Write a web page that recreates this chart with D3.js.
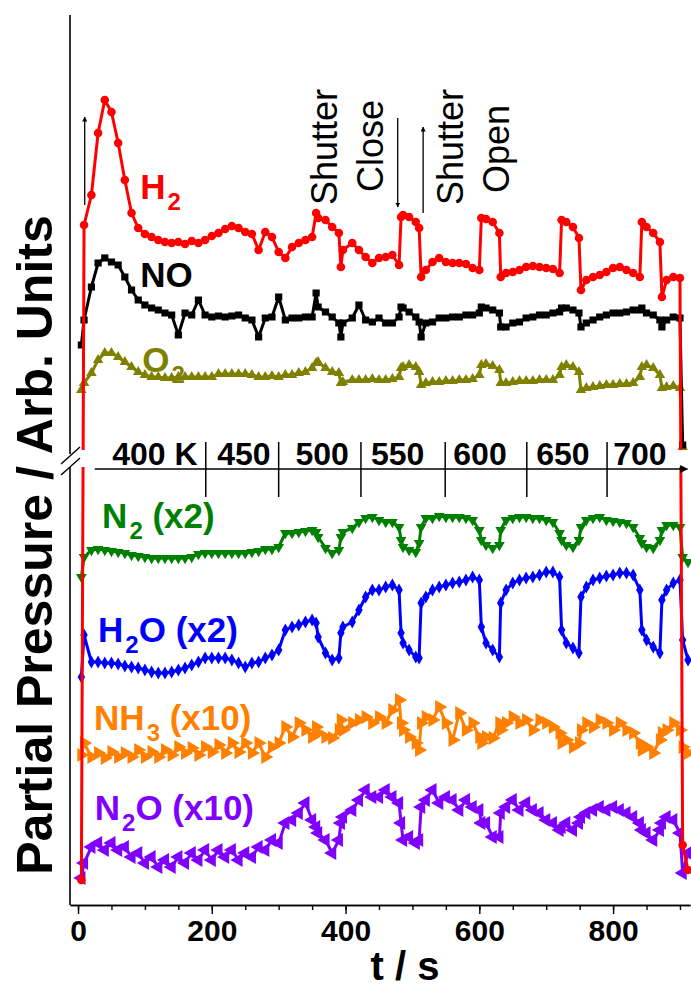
<!DOCTYPE html>
<html>
<head>
<meta charset="utf-8">
<script src="https://cdn.jsdelivr.net/npm/d3@7"></script>
<style>
  body { margin: 0; background: #fff; }
  svg { display: block; font-family: Arial, "Liberation Sans", sans-serif; }
</style>
</head>
<body>
<svg id="chart" width="691" height="992"></svg>
<script>
// time stamps (s), shared by every trace
var times = [5, 9, 20, 30, 40, 50, 60, 70, 80, 90,
  100, 110, 120, 130, 140, 150, 160, 170, 180, 190,
  200, 210, 220, 230, 240, 250, 260, 270, 280, 290,
  300, 310, 320, 330, 340, 350, 356, 359, 370, 380,
  390, 393, 396, 410, 420, 430, 440, 450, 460, 470,
  480, 483, 486, 495, 505, 510, 513, 520, 530, 540,
  550, 560, 570, 580, 590, 600, 603, 610, 620, 630,
  632, 640, 650, 660, 670, 680, 690, 700, 710, 720,
  723, 730, 740, 749, 752, 760, 770, 780, 790, 800,
  810, 820, 830, 840, 843, 850, 860, 870, 873, 880,
  890, 900, 904, 912];

// partial pressures, arb. units (traces offset as in the figure)
var h2 = [2.5, 68.0, 71.0, 77.2, 80.5, 79.3, 76.2, 72.5, 69.2, 67.7,
  67.1, 66.8, 66.5, 66.3, 66.2, 66.3, 66.1, 66.4, 66.2, 66.5,
  66.9, 67.2, 67.6, 67.9, 67.7, 67.3, 67.1, 65.5, 67.3, 66.8,
  65.3, 64.7, 65.8, 66.2, 66.5, 66.8, 69.2, 68.7, 68.5, 67.8,
  67.2, 63.8, 65.5, 66.2, 65.5, 64.8, 64.2, 64.7, 64.8, 65.0,
  64.0, 68.8, 69.0, 68.8, 68.3, 67.7, 62.8, 63.5, 64.3, 64.7,
  64.3, 64.2, 64.2, 64.1, 63.7, 63.5, 68.7, 68.6, 68.3, 67.2,
  62.8, 63.2, 63.3, 63.5, 63.8, 63.9, 63.8, 63.7, 63.6, 63.2,
  68.5, 68.3, 67.8, 66.7, 61.5, 62.5, 62.8, 63.0, 63.3, 63.7,
  63.8, 63.5, 63.2, 62.8, 68.3, 67.8, 67.2, 66.3, 60.8, 62.5,
  62.8, 62.7, 6.0, 3.5];
var no = [56.0, 58.5, 61.8, 64.2, 64.7, 64.3, 64.0, 62.8, 61.5, 60.5,
  60.0, 59.7, 59.5, 59.2, 59.0, 57.0, 59.2, 59.0, 60.5, 59.0,
  58.8, 58.9, 58.8, 58.9, 59.0, 58.7, 58.5, 56.8, 58.7, 58.8,
  60.8, 58.5, 58.7, 58.7, 58.8, 58.8, 61.2, 59.8, 59.3, 58.8,
  58.2, 56.8, 58.2, 58.7, 60.0, 58.5, 58.3, 58.7, 58.2, 58.2,
  58.8, 59.8, 59.7, 59.3, 58.8, 58.3, 56.8, 58.2, 58.3, 58.7,
  58.7, 58.8, 58.8, 59.0, 59.0, 59.2, 59.8, 59.7, 59.5, 59.2,
  57.8, 57.8, 58.2, 58.3, 58.7, 58.8, 59.0, 59.0, 59.2, 59.3,
  59.7, 59.7, 59.5, 59.2, 57.8, 58.2, 58.5, 58.8, 59.0, 59.2,
  59.2, 59.3, 59.5, 59.5, 59.7, 59.2, 59.0, 58.5, 57.8, 58.5,
  58.8, 58.7, 46.0, null];
var o2 = [51.5, 52.2, 53.2, 54.5, 55.2, 55.2, 54.8, 54.3, 53.8, 53.3,
  53.0, 52.8, 52.8, 52.7, 52.7, 52.8, 52.8, 52.8, 52.8, 52.8,
  52.8, 53.1, 53.1, 53.1, 53.1, 53.1, 53.0, 52.8, 52.8, 52.9,
  52.8, 53.0, 53.0, 53.2, 53.3, 53.7, 54.2, 54.3, 53.7, 53.3,
  53.2, 52.2, 52.3, 52.5, 52.5, 52.5, 52.6, 52.5, 52.5, 52.6,
  52.8, 53.7, 53.8, 54.0, 53.8, 53.3, 52.0, 52.2, 52.3, 52.3,
  52.4, 52.4, 52.5, 52.5, 52.6, 53.0, 54.0, 54.1, 53.9, 53.5,
  52.2, 52.2, 52.3, 52.4, 52.4, 52.4, 52.5, 52.5, 52.5, 53.0,
  53.8, 54.0, 53.8, 53.3, 51.5, 51.7, 51.8, 51.9, 52.0, 52.0,
  52.1, 52.1, 52.2, 52.8, 53.8, 54.0, 53.7, 53.0, 51.7, 51.8,
  51.9, 51.7, 45.8, null];
var n2 = [32.8, 34.8, 35.5, 35.6, 35.5, 35.4, 35.3, 35.2, 35.0, 34.9,
  34.8, 34.7, 34.7, 34.7, 34.7, 34.7, 34.7, 34.8, 35.1, 35.2,
  35.2, 35.2, 35.2, 35.2, 35.2, 35.2, 35.3, 35.4, 35.6, 35.6,
  35.8, 37.2, 37.2, 37.3, 37.4, 37.5, 37.3, 36.8, 35.7, 35.2,
  35.5, 36.8, 37.3, 37.7, 38.3, 38.7, 38.8, 38.5, 38.3, 38.3,
  37.8, 36.5, 35.8, 35.5, 35.3, 36.2, 37.8, 38.7, 38.7, 38.9,
  38.8, 38.8, 38.8, 38.7, 38.5, 37.5, 36.5, 36.0, 35.7, 36.0,
  37.5, 38.5, 38.7, 38.8, 38.8, 38.7, 38.7, 38.5, 38.3, 37.2,
  36.5, 36.0, 35.8, 36.5, 37.8, 38.5, 38.7, 38.8, 38.5, 38.4,
  38.3, 38.2, 37.8, 36.7, 36.2, 35.8, 35.7, 36.5, 37.5, 38.0,
  38.0, 37.8, 34.8, 34.3];
var h2o = [22.8, 27.0, 24.3, 24.3, 24.2, 24.2, 24.1, 23.9, 23.8, 23.7,
  23.5, 23.3, 23.2, 23.2, 23.3, 23.5, 23.7, 24.0, 24.3, 24.7,
  24.7, 24.7, 24.7, 24.5, 24.2, 23.8, 24.2, 24.3, 24.7, 25.0,
  25.5, 27.5, 27.8, 28.0, 28.3, 28.5, 28.2, 26.8, 25.2, 24.5,
  24.7, 27.2, 27.8, 28.3, 29.5, 30.8, 31.5, 31.5, 31.8, 32.0,
  31.5, 27.2, 26.2, 25.5, 24.8, 24.7, 30.2, 30.8, 31.5, 31.8,
  32.0, 32.2, 32.3, 32.5, 32.8, 32.5, 27.8, 26.2, 25.5, 24.8,
  30.2, 31.5, 32.2, 32.5, 32.7, 32.8, 33.0, 33.3, 33.3, 32.8,
  27.5, 26.2, 25.7, 25.2, 30.8, 31.8, 32.5, 32.7, 32.9, 33.0,
  33.2, 33.2, 33.0, 31.5, 27.5, 26.5, 25.8, 25.2, 30.5, 31.5,
  32.2, 32.5, 26.5, 24.5];
var nh3 = [15.0, 16.2, 14.8, 15.2, 14.7, 15.3, 14.8, 15.2, 14.8, 15.5,
  14.8, 15.3, 14.8, 15.5, 15.0, 15.8, 15.2, 15.7, 15.0, 15.8,
  15.3, 16.0, 15.2, 16.2, 15.3, 16.2, 15.2, 16.2, 14.8, 15.8,
  16.2, 17.8, 16.8, 18.2, 17.5, 16.8, 17.8, 17.2, 16.8, 16.7,
  17.5, 18.5, 17.5, 18.2, 18.5, 18.8, 18.2, 18.8, 18.2, 19.5,
  20.5, 18.2, 17.5, 16.8, 16.2, 15.5, 18.2, 18.8, 18.5, 19.8,
  18.2, 16.5, 19.2, 17.5, 18.2, 16.8, 16.2, 16.8, 16.7, 18.2,
  17.5, 18.2, 18.8, 18.2, 18.5, 17.5, 18.5, 18.2, 17.8, 17.2,
  16.2, 16.5, 15.8, 16.2, 17.5, 18.2, 17.8, 18.5, 18.2, 17.5,
  18.2, 17.5, 17.2, 16.2, 15.5, 15.8, 15.2, 16.5, 17.2, 17.5,
  18.2, 17.5, 15.8, 15.2];
var n2o = [2.7, 4.2, 5.8, 6.2, 5.5, 6.2, 5.5, 5.8, 4.8, 5.2,
  4.2, 4.8, 3.8, 4.5, 3.8, 4.8, 4.2, 5.2, 4.5, 5.5,
  4.5, 5.5, 4.8, 5.5, 4.5, 5.2, 4.8, 5.8, 5.5, 6.5,
  6.2, 8.2, 8.5, 9.2, 10.2, 8.5, 7.8, 7.2, 6.5, 5.2,
  6.5, 8.2, 8.8, 9.5, 10.5, 11.5, 10.8, 10.8, 11.5, 10.8,
  10.2, 8.2, 6.5, 6.8, 6.2, 6.5, 9.8, 10.5, 11.5, 10.2,
  10.8, 10.5, 9.5, 10.5, 9.8, 9.5, 8.2, 8.2, 6.8, 6.8,
  9.2, 9.8, 10.5, 9.5, 10.2, 9.5, 9.2, 8.5, 8.2, 7.5,
  7.8, 8.2, 7.5, 8.2, 8.8, 9.2, 9.5, 9.8, 9.5, 9.8,
  9.5, 9.2, 8.8, 8.2, 7.5, 7.2, 6.5, 7.5, 8.2, 8.8,
  8.5, 7.2, 3.2, 5.2];

// x axis ticks
var majorTicks = [0, 200, 400, 600, 800];
var minorTicks = [0, 50, 100, 150, 200, 250, 300, 350, 400, 450, 500, 550, 600, 650, 700, 750, 800, 850, 900];

// temperature scale drawn across the axis break
var tempLabels = ["400 K", "450", "500", "550", "600", "650", "700"];
var tempLabelTimes = [115, 248, 365, 478, 601, 725, 840];
var tempBounds = [191, 300, 423, 549, 671, 791];

var canvas_width = 691;
var canvas_height = 992;

var xScale = d3.scaleLinear().domain([-12, 915]).range([70, 690]);
var yScale = d3.scaleLinear().domain([0, 89]).range([905, 15]);
var breakTop = 450, breakBottom = 467; // pixel gap of the broken y axis

var svg = d3.select("#chart");

var defs = svg.append("defs");
var clip = defs.append("clipPath").attr("id", "breakclip");
clip.append("rect").attr("x", 70).attr("y", 0).attr("width", 621).attr("height", breakTop);
clip.append("rect").attr("x", 70).attr("y", breakBottom).attr("width", 621).attr("height", 905 - breakBottom);

defs.append("marker")
  .attr("id", "arrow")
  .attr("viewBox", "0 0 10 10")
  .attr("refX", 9).attr("refY", 5)
  .attr("markerWidth", 5).attr("markerHeight", 5)
  .attr("markerUnits", "userSpaceOnUse")
  .attr("orient", "auto")
  .append("path").attr("d", "M0,0 L10,5 L0,10 Z").attr("fill", "#000");
defs.append("marker")
  .attr("id", "bigarrow")
  .attr("viewBox", "0 0 10 10")
  .attr("refX", 9).attr("refY", 5)
  .attr("markerWidth", 10).attr("markerHeight", 8)
  .attr("markerUnits", "userSpaceOnUse")
  .attr("orient", "auto")
  .append("path").attr("d", "M0,0 L10,5 L0,10 Z").attr("fill", "#000");

var series = [
  { key: "N2O", values: n2o, color: "#8000ff", type: d3.symbolTriangle, rot: -90, size: 85 },
  { key: "NH3", values: nh3, color: "#ff8000", type: d3.symbolTriangle, rot: 90, size: 85 },
  { key: "H2O", values: h2o, color: "#0000ff", type: d3.symbolDiamond, rot: 0, size: 48 },
  { key: "N2", values: n2, color: "#008000", type: d3.symbolTriangle, rot: 180, size: 50 },
  { key: "O2", values: o2, color: "#808000", type: d3.symbolTriangle, rot: 0, size: 48 },
  { key: "NO", values: no, color: "#000000", type: d3.symbolSquare, rot: 0, size: 52 },
  { key: "H2", values: h2, color: "#ff0000", type: d3.symbolCircle, rot: 0, size: 58 }
];

var line = d3.line()
  .defined(function (d) { return d[1] !== null; })
  .x(function (d) { return xScale(d[0]); })
  .y(function (d) { return yScale(d[1]); });

var plot = svg.append("g").attr("clip-path", "url(#breakclip)");

series.forEach(function (s) {
  var pts = times.map(function (t, i) { return [t, s.values[i]]; });
  var g = plot.append("g").attr("class", "trace " + s.key);
  g.append("path")
    .datum(pts)
    .attr("fill", "none")
    .attr("stroke", s.color)
    .attr("stroke-width", 3)
    .attr("stroke-linejoin", "round")
    .attr("d", line);
  g.selectAll("path.dot")
    .data(pts.filter(function (d) { return d[1] !== null; }))
    .enter()
    .append("path")
    .attr("class", "dot")
    .attr("d", d3.symbol().type(s.type).size(s.size))
    .attr("fill", s.color)
    .attr("transform", function (d) {
      return "translate(" + xScale(d[0]) + "," + yScale(d[1]) + ") rotate(" + s.rot + ")";
    });
});

// left spine, broken
svg.append("line").attr("x1", 70).attr("x2", 70).attr("y1", 15).attr("y2", breakTop + 4)
  .attr("stroke", "#000").attr("stroke-width", 1.6);
svg.append("line").attr("x1", 70).attr("x2", 70).attr("y1", breakBottom).attr("y2", 905)
  .attr("stroke", "#000").attr("stroke-width", 1.6);
svg.append("line").attr("x1", 61).attr("y1", 464).attr("x2", 80).attr("y2", 447)
  .attr("stroke", "#000").attr("stroke-width", 1.4);
svg.append("line").attr("x1", 61).attr("y1", 475).attr("x2", 80).attr("y2", 458)
  .attr("stroke", "#000").attr("stroke-width", 1.4);

// x axis
var xMinor = d3.axisBottom(xScale).tickValues(minorTicks).tickSize(5).tickSizeOuter(0).tickFormat("");
var xMajor = d3.axisBottom(xScale).tickValues(majorTicks).tickSize(9).tickSizeOuter(0).tickPadding(6);

svg.append("g")
  .attr("class", "x axis minor")
  .attr("transform", "translate(0,905)")
  .call(xMinor);
var gx = svg.append("g")
  .attr("class", "x axis")
  .attr("transform", "translate(0,905)")
  .call(xMajor);
svg.selectAll(".x.axis path.domain").attr("stroke-width", 1.6);
svg.selectAll(".x.axis .tick line").attr("stroke-width", 1.4);
gx.selectAll("text")
  .attr("font-family", "Arial, 'Liberation Sans', sans-serif")
  .attr("font-size", 30)
  .attr("font-weight", "bold")
  .attr("fill", "#000");

svg.append("text")
  .attr("x", 405)
  .attr("y", 980)
  .attr("text-anchor", "middle")
  .attr("font-size", 40)
  .attr("font-weight", "bold")
  .text("t / s");

svg.append("text")
  .attr("transform", "translate(52,545) rotate(-90)")
  .attr("text-anchor", "middle")
  .attr("font-size", 50)
  .attr("font-weight", "bold")
  .text("Partial Pressure / Arb. Units");

// temperature bar
var tempY = 469;
svg.append("line")
  .attr("x1", xScale(25)).attr("x2", xScale(911))
  .attr("y1", tempY).attr("y2", tempY)
  .attr("stroke", "#000").attr("stroke-width", 1.5)
  .attr("marker-end", "url(#bigarrow)");
svg.selectAll("line.tbound")
  .data(tempBounds)
  .enter()
  .append("line")
  .attr("class", "tbound")
  .attr("x1", function (d) { return xScale(d); })
  .attr("x2", function (d) { return xScale(d); })
  .attr("y1", 442).attr("y2", 497)
  .attr("stroke", "#000").attr("stroke-width", 1.5);
svg.selectAll("text.tlabel")
  .data(tempLabels)
  .enter()
  .append("text")
  .attr("class", "tlabel")
  .attr("x", function (d, i) { return xScale(tempLabelTimes[i]); })
  .attr("y", 465)
  .attr("text-anchor", "middle")
  .attr("font-size", 32)
  .attr("font-weight", "bold")
  .text(function (d) { return d; });

// trace labels with subscripts
function addLabel(t, v, color, parts) {
  var txt = svg.append("text")
    .attr("x", xScale(t))
    .attr("y", yScale(v))
    .attr("font-size", 35)
    .attr("font-weight", "bold")
    .attr("fill", color);
  var shifted = false;
  parts.forEach(function (p) {
    var ts = txt.append("tspan").text(p[0]);
    if (p[1]) {
      ts.attr("font-size", 24).attr("dy", 11).attr("dx", 2);
      shifted = true;
    } else if (shifted) {
      ts.attr("dy", -11);
      shifted = false;
    }
  });
}
addLabel(93, 70.6, "#ff0000", [["H"], ["2", true]]);
addLabel(93, 61.8, "#000000", [["NO"]]);
addLabel(96, 53.3, "#808000", [["O"], ["2", true]]);
addLabel(36, 37.7, "#008000", [["N"], ["2", true], [" (x2)"]]);
addLabel(30, 26.3, "#0000ff", [["H"], ["2", true], ["O (x2)"]]);
addLabel(24, 17.5, "#ff8000", [["NH"], ["3", true], [" (x10)"]]);
addLabel(25, 8.5, "#8000ff", [["N"], ["2", true], ["O (x10)"]]);

// shutter annotations
var notes = [
  { text: "Shutter", t: 387, v: 70.0 },
  { text: "Close", t: 456, v: 71.3 },
  { text: "Shutter", t: 575, v: 70.0 },
  { text: "Open", t: 644, v: 71.2 }
];
notes.forEach(function (n) {
  svg.append("text")
    .attr("transform", "translate(" + xScale(n.t) + "," + yScale(n.v) + ") rotate(-90)")
    .attr("font-size", 36)
    .text(n.text);
});

var arrows = [
  { t: 10, from: 70.0, to: 78.8 },
  { t: 478, from: 78.7, to: 69.8 },
  { t: 516, from: 69.2, to: 77.8 }
];
arrows.forEach(function (a) {
  svg.append("line")
    .attr("x1", xScale(a.t)).attr("x2", xScale(a.t))
    .attr("y1", yScale(a.from)).attr("y2", yScale(a.to))
    .attr("stroke", "#000").attr("stroke-width", 1.3)
    .attr("marker-end", "url(#arrow)");
});
</script>
</body>
</html>
